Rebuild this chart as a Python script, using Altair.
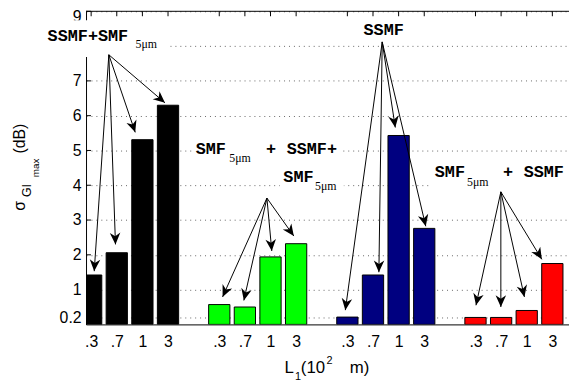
import math
import altair as alt
import pandas as pd

# ---------------- data ----------------
positions = [1, 2, 3, 4, 6, 7, 8, 9, 11, 12, 13, 14, 16, 17, 18, 19]
tick_labels = [".3", ".7", "1", "3"]
black_vals = [1.42, 2.06, 5.31, 6.30]
green_vals = [0.57, 0.50, 1.94, 2.32]
blue_vals = [0.21, 1.42, 5.43, 2.76]
red_vals = [0.20, 0.20, 0.40, 1.75]
group_colors = ["#000000", "#00ff00", "#000080", "#ff0000"]
y_ticks = [0.2, 1, 2, 3, 4, 5, 6, 7, 8, 9]

# annotation arrows (data coordinates): one source per group, one tip per bar
arrow_src_x = [1.69, 7.86, 12.36, 16.99]
arrow_src_y = [7.75, 3.63, 8.12, 3.81]
arrow_tip_x = [1.12, 1.95, 2.72, 3.88, 6.13, 6.96, 8.05, 8.91,
               10.92, 12.23, 12.87, 14.06, 16.02, 16.99, 17.91, 18.59]
arrow_tip_y = [1.53, 2.30, 5.52, 6.37, 0.79, 0.69, 2.11, 2.54,
               0.41, 1.50, 5.66, 2.82, 0.55, 0.50, 0.79, 1.87]

# annotation texts (data coordinates of left baseline)
mono_text = ["SSMF+SMF", "SMF", "+", "SSMF+", "SMF", "SSMF", "SMF", "+", "SSMF"]
mono_x = [-0.70, 5.08, 7.82, 8.63, 8.50, 11.63, 14.41, 17.07, 17.88]
mono_y = [8.15, 4.91, 4.91, 4.91, 4.08, 8.31, 4.24, 4.24, 4.24]
sub_text = ["5\u03bcm", "5\u03bcm", "5\u03bcm", "5\u03bcm"]
sub_x = [2.73, 6.39, 9.74, 15.67]
sub_y = [7.94, 4.67, 3.85, 3.97]

# white backgrounds behind the annotation texts
box_x1 = [-1.01, 4.96, 8.36, 11.48, 14.18]
box_x2 = [4.08, 10.82, 10.86, 13.25, 19.65]
box_y1 = [7.69, 4.57, 3.72, 8.12, 3.80]
box_y2 = [8.74, 5.34, 4.54, 8.69, 4.71]

# ---------------- layout ----------------
W, H = 489, 317
XMIN, XMAX = 0.8, 19.65
YMIN, YMAX = 0.0, 9.0
BAR_HALF = 0.415

xs = alt.Scale(domain=[XMIN, XMAX], nice=False, zero=False)
ys = alt.Scale(domain=[YMIN, YMAX], nice=False, zero=False)

label_arr = "[" + ",".join("'%s'" % t for t in tick_labels) + "]"
x_axis = alt.Axis(
    values=positions, labelExpr="%s[(datum.value %% 5) - 1]" % label_arr,
    grid=False, ticks=False, labelPadding=9, title=None,
    labelFlush=False, labelOverlap=False)
y_axis = alt.Axis(
    values=y_ticks,
    labelExpr="datum.value == 8 ? '' : '' + datum.value",
    labelOffset={"condition": {"test": "datum.value == 9", "value": 5}, "value": 0},
    grid=True, gridDash=[1, 4], gridColor="#666666", gridWidth=1, ticks=False,
    labelPadding=5, title=None, labelFlush=False, labelOverlap=False)


def X(f):
    return alt.X(f, scale=xs, axis=x_axis)


def Y(f):
    return alt.Y(f, scale=ys, axis=y_axis)


all_vals = black_vals + green_vals + blue_vals + red_vals
bars_df = pd.DataFrame({
    "pos": positions,
    "val": all_vals,
    "color": [c for c in group_colors for _ in range(4)],
})

bars = alt.Chart(bars_df).transform_calculate(
    x0="datum.pos - %f" % BAR_HALF,
    x1="datum.pos + %f" % BAR_HALF,
    base="0",
).mark_bar(clip=True, stroke="black", strokeWidth=1).encode(
    x=X("x0:Q"), x2="x1:Q", y=Y("val:Q"), y2="base:Q",
    color=alt.Color("color:N", scale=None),
)

# inward ticks on left and top
left_ticks = alt.Chart(pd.DataFrame({"t": y_ticks})).mark_rule(
    color="black", strokeWidth=1).encode(
    y=Y("t:Q"), x=alt.value(0), x2=alt.value(5))
top_ticks = alt.Chart(pd.DataFrame({"p": positions})).mark_rule(
    color="black", strokeWidth=1).encode(
    x=X("p:Q"), y=alt.value(0), y2=alt.value(5))
top_border = alt.Chart(pd.DataFrame({"a": [0]})).mark_rule(
    color="black", strokeWidth=1).encode(
    x=alt.value(0), x2=alt.value(W), y=alt.value(0))

boxes = alt.Chart(pd.DataFrame({
    "bx1": box_x1, "bx2": box_x2, "by1": box_y1, "by2": box_y2})).mark_rect(
    color="white").encode(
    x=X("bx1:Q"), x2="bx2:Q", y=Y("by1:Q"), y2="by2:Q")

mono = alt.Chart(pd.DataFrame({"t": mono_text, "tx": mono_x, "ty": mono_y})).mark_text(
    font="Liberation Mono", fontWeight="bold", fontSize=17, align="left",
    baseline="alphabetic", color="black").encode(
    x=X("tx:Q"), y=Y("ty:Q"), text="t:N")
subs = alt.Chart(pd.DataFrame({"t": sub_text, "tx": sub_x, "ty": sub_y})).mark_text(
    font="Liberation Serif", fontSize=12, align="left",
    baseline="alphabetic", color="black").encode(
    x=X("tx:Q"), y=Y("ty:Q"), text="t:N")

# arrows
sxp = W / (XMAX - XMIN)
syp = H / (YMAX - YMIN)
src_x = [arrow_src_x[i // 4] for i in range(16)]
src_y = [arrow_src_y[i // 4] for i in range(16)]
angles = []
for i in range(16):
    dx = (arrow_tip_x[i] - src_x[i]) * sxp
    dy = -(arrow_tip_y[i] - src_y[i]) * syp
    angles.append(math.degrees(math.atan2(-dx, dy)) % 360)
arr_df = pd.DataFrame({"sx": src_x, "sy": src_y, "tx": arrow_tip_x,
                       "ty": arrow_tip_y, "ang": angles})
arrow_lines = alt.Chart(arr_df).mark_rule(color="black", strokeWidth=1).encode(
    x=X("sx:Q"), y=Y("sy:Q"), x2="tx:Q", y2="ty:Q")
HEAD = "M0,0 L-0.45,-1 L0,-0.7 L0.45,-1 Z"
arrow_heads = alt.Chart(arr_df).mark_point(
    shape=HEAD, filled=True, color="black", opacity=1, size=560, strokeWidth=0).encode(
    x=X("tx:Q"), y=Y("ty:Q"),
    angle=alt.Angle("ang:Q", scale=None))


# axis titles made of pieces (pixel positions relative to the plot area)
def piece(text, x, y, size, angle=0):
    kw = dict(text=text, font="Liberation Sans", fontSize=size, align="left",
              baseline="alphabetic", color="black")
    if angle:
        kw["angle"] = angle
    return alt.Chart(pd.DataFrame({"a": [0]})).mark_text(**kw).encode(
        x=alt.value(x), y=alt.value(y))


titles = [
    piece("\u03c3", -61.5, 202, 16, 270),
    piece("GI", -55.5, 188, 12.5, 270),
    piece("max", -47.5, 168, 10, 270),
    piece("(dB)", -62, 144, 16, 270),
    piece("L", 201, 366, 17),
    piece("1", 211.5, 373, 11),
    piece("(10", 217.5, 366, 17),
    piece("2", 243.5, 357, 11),
    piece("m)", 267, 366, 17),
]

chart = alt.layer(
    bars, left_ticks, top_ticks, boxes, mono, subs, arrow_lines, arrow_heads,
    top_border, *titles
).properties(
    width=W, height=H,
    autosize=alt.AutoSizeParams(type="none"),
    padding={"left": 79, "top": 1, "right": 0, "bottom": 58},
    background="white",
).configure_view(strokeWidth=0).configure_axis(
    labelFont="Liberation Sans", labelFontSize=16, labelColor="black",
    domainColor="black", domainWidth=1,
)

chart.save("out.html", embed_options={"renderer": "svg", "actions": False})
